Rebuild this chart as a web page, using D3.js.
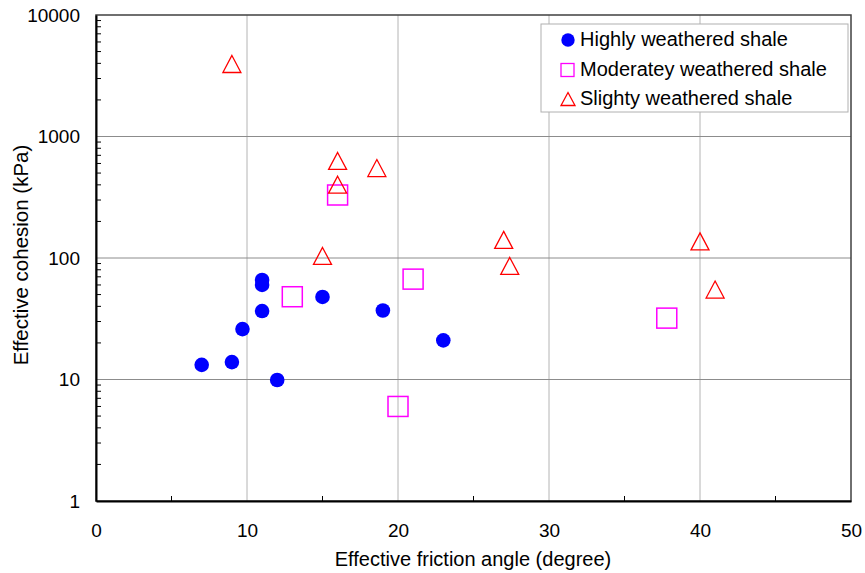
<!DOCTYPE html>
<html><head><meta charset="utf-8">
<script src="https://cdn.jsdelivr.net/npm/d3@7"></script>
<style>body{margin:0;background:#fff;} text{font-family:Arial,"Liberation Sans",sans-serif;}</style>
</head><body>
<svg id="c" width="865" height="573"></svg>
<script>
const highlyX = [7, 9, 9.7, 11, 11, 11, 12, 15, 19, 23];
const highlyY = [13.2, 13.9, 26, 66, 60, 36.6, 9.9, 47.8, 37, 21];
const moderateX = [13, 16, 21, 20, 37.8];
const moderateY = [48, 330, 67, 6, 32];
const slightX = [9, 16, 16, 18.6, 15, 27, 27.4, 40, 41];
const slightY = [3950, 629, 401, 550, 104, 141, 86, 137, 55];
const seriesNames = ["Highly weathered shale", "Moderatey weathered shale", "Slighty weathered shale"];
const xTicks = [0, 10, 20, 30, 40, 50];
const yTicks = [1, 10, 100, 1000, 10000];

const svg = d3.select("#c");
const L = 96, R = 851, T = 15, B = 501;
const x = d3.scaleLinear().domain([0, 50]).range([L, R]);
const y = d3.scaleLog().domain([1, 10000]).range([B, T]);

// grid
svg.append("g").selectAll("line").data([10, 20, 30, 40]).join("line")
  .attr("x1", d => x(d)).attr("x2", d => x(d)).attr("y1", T).attr("y2", B)
  .attr("stroke", "#b4b4b4").attr("stroke-width", 1);
svg.append("g").selectAll("line").data([10, 100, 1000]).join("line")
  .attr("x1", L).attr("x2", R).attr("y1", d => y(d)).attr("y2", d => y(d))
  .attr("stroke", "#8c8c8c").attr("stroke-width", 1);

// frame
svg.append("rect").attr("x", L).attr("y", T).attr("width", R - L).attr("height", B - T)
  .attr("fill", "none").attr("stroke", "#404040").attr("stroke-width", 1.5);

// minor y ticks
const minor = [];
for (let e = 0; e < 4; e++) for (let m = 2; m <= 9; m++) minor.push(m * Math.pow(10, e));
svg.append("g").selectAll("line").data(minor).join("line")
  .attr("x1", L).attr("x2", L + 5).attr("y1", d => y(d)).attr("y2", d => y(d))
  .attr("stroke", "#000");
// minor x ticks
svg.append("g").selectAll("line").data([5, 15, 25, 35, 45]).join("line")
  .attr("x1", d => x(d)).attr("x2", d => x(d)).attr("y1", B).attr("y2", B - 5)
  .attr("stroke", "#000");

// axes
const xAxis = svg.append("g").attr("transform", `translate(0,${B})`)
  .call(d3.axisBottom(x).tickValues(xTicks).tickSize(0).tickPadding(0).tickFormat(d3.format("d")));
xAxis.select(".domain").attr("stroke", "#000").attr("stroke-width", 2);
xAxis.selectAll("text").attr("font-size", 19).attr("fill", "#000").attr("dy", null).attr("y", 36);
const yAxis = svg.append("g").attr("transform", `translate(${L},0)`)
  .call(d3.axisLeft(y).tickValues(yTicks).tickSize(0).tickPadding(16).tickFormat(d3.format("d")));
yAxis.select(".domain").attr("stroke", "#000").attr("stroke-width", 2);
yAxis.selectAll("text").attr("font-size", 19).attr("fill", "#000");

// axis titles
svg.append("text").attr("x", 473).attr("y", 566).attr("text-anchor", "middle")
  .attr("font-size", 20).text("Effective friction angle (degree)");
svg.append("text").attr("transform", `translate(28,255) rotate(-90)`)
  .attr("text-anchor", "middle").attr("font-size", 20.5).text("Effective cohesion (kPa)");

// data
const g = svg.append("g");
g.selectAll("circle").data(highlyX.map((v, i) => [v, highlyY[i]])).join("circle")
  .attr("cx", d => x(d[0])).attr("cy", d => y(d[1])).attr("r", 7.3).attr("fill", "#0000ff");
const sq = 20;
g.selectAll("rect.m").data(moderateX.map((v, i) => [v, moderateY[i]])).join("rect")
  .attr("class", "m").attr("x", d => x(d[0]) - sq / 2).attr("y", d => y(d[1]) - sq / 2)
  .attr("width", sq).attr("height", sq).attr("fill", "none").attr("stroke", "#ff00ff").attr("stroke-width", 1.5);
const tri = (cx, cy, w, h) => `M${cx},${cy - h / 2}L${cx + w / 2},${cy + h / 2}L${cx - w / 2},${cy + h / 2}Z`;
g.selectAll("path.s").data(slightX.map((v, i) => [v, slightY[i]])).join("path")
  .attr("class", "s").attr("d", d => tri(x(d[0]), y(d[1]), 18, 17))
  .attr("fill", "none").attr("stroke", "#ff0000").attr("stroke-width", 1.3);

// legend
const lg = svg.append("g");
lg.append("rect").attr("x", 541).attr("y", 24).attr("width", 307).attr("height", 88)
  .attr("fill", "#fff").attr("stroke", "#b0b0b0").attr("stroke-width", 1);
const rows = [40, 70, 99];
lg.append("circle").attr("cx", 568).attr("cy", rows[0]).attr("r", 6.7).attr("fill", "#0000ff");
lg.append("rect").attr("x", 561).attr("y", rows[1] - 6.5).attr("width", 13).attr("height", 13)
  .attr("fill", "none").attr("stroke", "#ff00ff").attr("stroke-width", 1.3);
lg.append("path").attr("d", tri(568, rows[2], 14, 13)).attr("fill", "none").attr("stroke", "#ff0000").attr("stroke-width", 1.3);
lg.selectAll("text").data(seriesNames).join("text")
  .attr("x", 580).attr("y", (d, i) => [46, 75.5, 105][i]).attr("font-size", 20).text(d => d);
</script>
</body></html>
